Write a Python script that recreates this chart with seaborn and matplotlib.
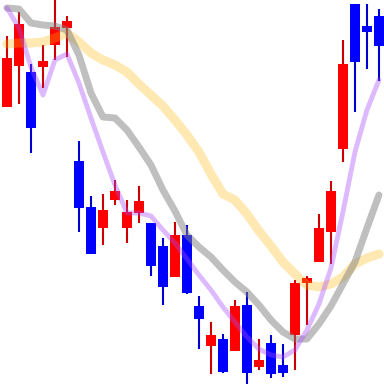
import numpy as np
import pandas as pd
import matplotlib
matplotlib.use("Agg")
import matplotlib.pyplot as plt
import seaborn as sns

# OHLC values
opens = [169.25, 179.5, 178, 179.25, 184.75, 189, 155.75, 144.25, 139, 146, 139, 142.75,
         140.25, 134.5, 126.75, 137.25, 119.5, 109.5, 111.25, 108.25, 119.75, 104.25, 110.25, 104.75,
         112.25, 125.25, 130.5, 138, 158.75, 195, 189.5, 192]
closes = [181.5, 190, 164, 180.75, 189.25, 190.75, 144, 132.5, 143.5, 148.25, 143, 145.75,
          129.5, 124.25, 137.25, 122.75, 116.25, 112.25, 103, 119.5, 102.75, 106, 102.5, 102.75,
          125.25, 126.5, 139, 148.25, 180, 180.5, 188, 184.5]
highs = [187, 193, 180, 184.75, 196, 192, 160.75, 147, 147.5, 151, 146, 149.5,
         140.25, 136.5, 140.5, 139.75, 122, 115.5, 112.5, 121, 123, 111.25, 112.25, 110,
         126, 127, 142.5, 150.75, 186, 195, 195, 193.75]
lows = [169.25, 170, 157.75, 174, 181, 181.75, 138, 132.5, 134.75, 144.75, 135.25, 140.25,
        127, 119.75, 126.75, 122.5, 108.75, 102.5, 102.75, 108.25, 100, 103.5, 101.5, 101.75,
        103.5, 114.75, 130.5, 130, 155.5, 168, 178.75, 175.75]

# moving-average lines
ma_short = [194, 189, 179.25, 172.25, 181, 182.5, 175.25, 166.5, 158, 149.75, 142.75, 142.75,
            142, 138.5, 135.25, 131.25, 127.25, 123.5, 119.25, 115.5, 111.75, 108.75, 107.25, 106.75,
            108.5, 113.5, 120, 129, 143, 158, 168.5, 176]
ma_mid = [194, 193.75, 190.25, 189.75, 189.5, 188.5, 182.25, 172.75, 166.75, 166.5, 163.5, 159.25,
          154.75, 148.5, 143.25, 137.25, 134.25, 131.75, 128.5, 125.5, 123, 119.75, 116, 113,
          111.25, 111.25, 115, 119.5, 125, 130.5, 139, 147.25]
ma_long = [185, 185.25, 185.25, 185.5, 186.5, 187.75, 185.5, 182.75, 181, 179.75, 178, 175,
           172.25, 169.5, 166, 162.25, 158, 152.5, 147.5, 146, 142.5, 138.25, 134.5, 130.5,
           127.5, 124.75, 124.25, 125, 126.75, 130, 131.5, 132.5]

n = len(opens)
idx = np.arange(n)
df = pd.DataFrame({"i": idx, "open": opens, "close": closes, "high": highs, "low": lows,
                   "ma_short": ma_short, "ma_mid": ma_mid, "ma_long": ma_long})

sns.set_style("white")
fig = plt.figure(figsize=(3.84, 3.84), dpi=100)
ax = fig.add_axes([0, 0, 1, 1])

up = df["close"] >= df["open"]
wick_col = np.where(up, "#cc0000", "#0000cc")
body_col = np.where(up, "#ff0000", "#0000ff")

ax.vlines(df["i"], df["low"], df["high"], colors=wick_col, linewidth=1.5, zorder=1)
bottoms = np.minimum(df["open"], df["close"])
heights = np.abs(df["close"] - df["open"])
ax.bar(df["i"], heights, bottom=bottoms, width=0.83, color=body_col, linewidth=0, zorder=2)

sns.lineplot(data=df, x="i", y="ma_long", ax=ax, color="#ffb400", alpha=0.3, linewidth=6.5, zorder=3)
sns.lineplot(data=df, x="i", y="ma_mid", ax=ax, color="#808080", alpha=0.5, linewidth=5, zorder=4)
sns.lineplot(data=df, x="i", y="ma_short", ax=ax, color="#a848ff", alpha=0.38, linewidth=3.5, zorder=5)

ax.set_xlim(-0.58, n - 0.58)
ax.set_ylim(100, 196)
ax.set_axis_off()
fig.savefig("out.png", dpi=100)
